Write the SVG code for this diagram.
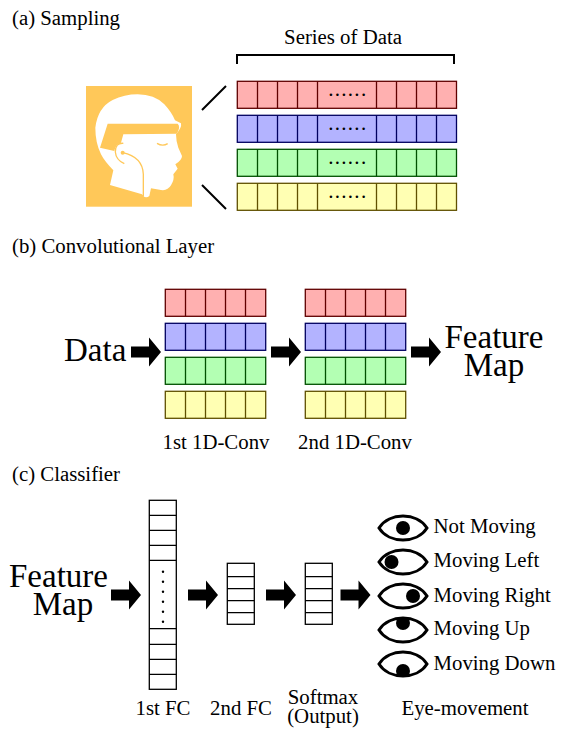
<svg xmlns="http://www.w3.org/2000/svg" width="579" height="743" viewBox="0 0 579 743">
<style>
text{font-family:"Liberation Serif","Times New Roman",serif;fill:#000}
.l{font-size:20.8px}
.b{font-size:33px}
.c{text-anchor:middle}
.r{fill:#ffb0b0;stroke:#600000}
.u{fill:#b3b3ff;stroke:#000060}
.g{fill:#b3ffb3;stroke:#005000}
.y{fill:#ffffb3;stroke:#605000}
.rs{stroke:#600000}.us{stroke:#000060}.gs{stroke:#005000}.ys{stroke:#605000}
.dv{fill:none;stroke-width:1.3}
.fc{fill:#fff;stroke:#000;stroke-width:1.3}
.ln{fill:none;stroke:#000;stroke-width:1.3}
.eye{fill:#fff;stroke:#000;stroke-width:3}
.dots{font-size:21px;letter-spacing:1.3px}
</style>
<defs>
<path id="arrow" d="M0,-5.500H18V-14.500L30,0L18,14.500V5.500H0Z" fill="#000"/>
<path id="eyeShape" d="M-24,0C-14,-16 14,-16 24,0C14,16 -14,16 -24,0Z"/>
<clipPath id="eyeClip"><path d="M-24,0C-14,-16 14,-16 24,0C14,16 -14,16 -24,0Z"/></clipPath>
<g id="row5">
<path class="dv" d="M20.200,0V27M40.200,0V27M60.200,0V27M80.200,0V27"/>
</g>
<g id="row10">
<path class="dv" d="M20.200,0V27M40.200,0V27M60.200,0V27M80.200,0V27M139.200,0V27M159.200,0V27M179.200,0V27M199.200,0V27"/>
</g>
<g id="stack5">
<rect class="r" x="0" y="0" width="100.400" height="27" stroke-width="1.300"/><use href="#row5" class="rs"/>
<rect class="u" x="0" y="34" width="100.400" height="27" stroke-width="1.300"/><use href="#row5" y="34" class="us"/>
<rect class="g" x="0" y="68" width="100.400" height="27" stroke-width="1.300"/><use href="#row5" y="68" class="gs"/>
<rect class="y" x="0" y="102" width="100.400" height="27" stroke-width="1.300"/><use href="#row5" y="102" class="ys"/>
</g>
<g id="fc5">
<rect class="fc" width="27" height="61"/>
<path class="ln" d="M0,13.400H27M0,25.400H27M0,37.400H27M0,49.400H27"/>
</g>
</defs>

<g id="connectors">
<path d="M202,110L226,86M202,185L226,209" fill="none" stroke="#000" stroke-width="2"/>
<use href="#arrow" x="131" y="352"/>
<use href="#arrow" x="271" y="352"/>
<use href="#arrow" x="411" y="352"/>
<use href="#arrow" x="111" y="595"/>
<use href="#arrow" x="188" y="595"/>
<use href="#arrow" x="266" y="595"/>
<use href="#arrow" x="340.500" y="595"/>
</g>

<g id="title-a"><text class="l" x="12" y="25">(a) Sampling</text></g>
<g id="title-b"><text class="l" x="12" y="253">(b) Convolutional Layer</text></g>
<g id="title-c"><text class="l" x="12" y="481">(c) Classifier</text></g>

<g id="head">
<rect x="86" y="86" width="106" height="120.700" fill="#ffc859"/>
<g transform="translate(86,86) scale(.33333)">
<path fill="#fff" d="M72,297L82,253Q55,225 45,205Q28,170 28,125Q35,65 80,42Q115,25 155,25Q205,25 235,55Q258,80 267,103L285,112Q288,125 270,145Q270,165 277,185L288,210Q288,222 268,235L275,248L262,265Q266,280 255,298Q245,315 225,312L195,307L190,330Q178,340 168,325Z"/>
<path fill="#ffc859" d="M65,113H275Q285,122 272,143L112,145L105,170Q88,175 85,195L42,185Z"/>
<path fill="none" stroke="#ffc859" stroke-width="4" d="M112,172Q88,170 88,198Q90,222 115,233M110,200Q170,213 172,265V330M213,172Q230,182 245,173"/>
<circle cx="110" cy="200" r="6" fill="#ffc859"/>
</g>
</g>

<g id="series-bracket">
<path d="M237,64V55H454V64" fill="none" stroke="#000" stroke-width="2"/>
<text class="l c" x="343" y="44">Series of Data</text>
</g>

<g id="sample-rows">
<g transform="translate(237.300,81.300)">
<rect class="r" width="219.200" height="27" stroke-width="1.300"/><use href="#row10" class="rs"/>
<text class="dots c" x="110.500" y="15">......</text>
</g>
<g transform="translate(237.300,115.300)">
<rect class="u" width="219.200" height="27" stroke-width="1.300"/><use href="#row10" class="us"/>
<text class="dots c" x="110.500" y="15">......</text>
</g>
<g transform="translate(237.300,149.300)">
<rect class="g" width="219.200" height="27" stroke-width="1.300"/><use href="#row10" class="gs"/>
<text class="dots c" x="110.500" y="15">......</text>
</g>
<g transform="translate(237.300,183.300)">
<rect class="y" width="219.200" height="27" stroke-width="1.300"/><use href="#row10" class="ys"/>
<text class="dots c" x="110.500" y="15">......</text>
</g>
</g>

<g id="data-label"><text class="b" x="64" y="361">Data</text></g>
<g id="conv1"><use href="#stack5" x="165.300" y="289.300"/><text class="l c" x="216" y="449">1st 1D-Conv</text></g>
<g id="conv2"><use href="#stack5" x="305.300" y="289.300"/><text class="l c" x="355" y="449">2nd 1D-Conv</text></g>
<g id="feature-map-1"><text class="b c" x="494" y="348">Feature</text><text class="b c" x="494" y="376">Map</text></g>

<g id="feature-map-2"><text class="b c" x="58.500" y="587">Feature</text><text class="b c" x="63" y="615">Map</text></g>
<g id="fc1">
<rect class="fc" x="149.300" y="500.300" width="27" height="189"/>
<path class="ln" d="M149.300,515.300H176.300M149.300,530.300H176.300M149.300,545.300H176.300M149.300,560.300H176.300M149.300,628.700H176.300M149.300,644.300H176.300M149.300,659.300H176.300M149.300,674.300H176.300"/>
<g fill="#000"><circle cx="163" cy="571.700" r="1.200"/><circle cx="163" cy="581.700" r="1.200"/><circle cx="163" cy="591.700" r="1.200"/><circle cx="163" cy="601.700" r="1.200"/><circle cx="163" cy="611.700" r="1.200"/><circle cx="163" cy="621.700" r="1.200"/></g>
<text class="l c" x="163" y="715">1st FC</text>
</g>
<g id="fc2"><use href="#fc5" x="227.300" y="563.300"/><text class="l c" x="241" y="715">2nd FC</text></g>
<g id="softmax"><use href="#fc5" x="305.300" y="563.300"/><text class="l c" x="323" y="704">Softmax</text><text class="l c" x="323" y="723">(Output)</text></g>

<g id="eye-not-moving" transform="translate(403,528)"><use href="#eyeShape" class="eye"/><circle r="7" fill="#000"/></g>
<g id="eye-left" transform="translate(403,562)"><use href="#eyeShape" class="eye"/><circle cx="-11.500" r="7" fill="#000"/></g>
<g id="eye-right" transform="translate(403,596)"><use href="#eyeShape" class="eye"/><circle cx="10" r="7" fill="#000"/></g>
<g id="eye-up" transform="translate(403,630)"><use href="#eyeShape" class="eye"/><g clip-path="url(#eyeClip)"><circle cy="-7" r="7" fill="#000"/></g></g>
<g id="eye-down" transform="translate(403,664)"><use href="#eyeShape" class="eye"/><g clip-path="url(#eyeClip)"><circle cy="7" r="7" fill="#000"/></g></g>
<g id="eye-labels">
<text class="l" x="433.500" y="533">Not Moving</text>
<text class="l" x="433.500" y="567">Moving Left</text>
<text class="l" x="433.500" y="602">Moving Right</text>
<text class="l" x="433.500" y="635">Moving Up</text>
<text class="l" x="433.500" y="670">Moving Down</text>
<text class="l c" x="465" y="715">Eye-movement</text>
</g>
</svg>
